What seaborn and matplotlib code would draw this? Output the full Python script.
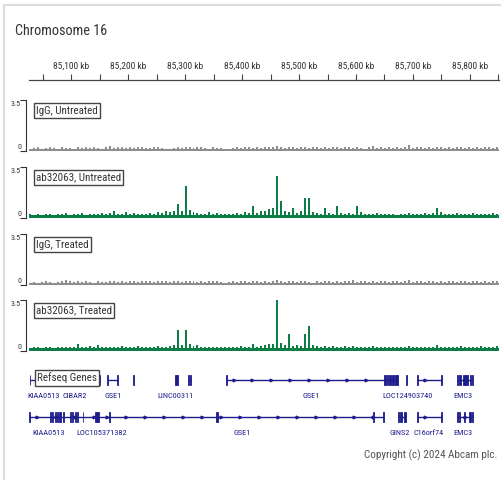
import numpy as np
import pandas as pd
import matplotlib
matplotlib.use("Agg")
import matplotlib.pyplot as plt
import seaborn as sns
from matplotlib.lines import Line2D
from matplotlib.patches import Rectangle
from matplotlib import font_manager as fm

W, H = 502, 480

# ---------------- data ----------------
region_start_kb = 85026
region_end_kb = 85851
bin_kb = 7.0
n_bins = 118

ruler_major_kb = [85100, 85200, 85300, 85400, 85500, 85600, 85700, 85800]
ruler_major_labels = ["85,100 kb", "85,200 kb", "85,300 kb", "85,400 kb",
                      "85,500 kb", "85,600 kb", "85,700 kb", "85,800 kb"]
ruler_minor_kb = [85050, 85150, 85250, 85350, 85450, 85550, 85650, 85750, 85850]

track_names = ["IgG, Untreated", "ab32063, Untreated", "IgG, Treated", "ab32063, Treated"]
track_ymax = 3.5

igg_untreated = [
    0.15, 0.2, 0.25, 0.15, 0.2, 0.3, 0.2, 0.15, 0.25, 0.2,
    0.2, 0.15, 0.25, 0.2, 0.3, 0.2, 0.25, 0.2, 0.15, 0.25,
    0.35, 0.2, 0.25, 0.3, 0.2, 0.25, 0.2, 0.3, 0.25, 0.2,
    0.2, 0.25, 0.3, 0.2, 0.15, 0.0, 0.2, 0.25, 0.2, 0.3,
    0.25, 0.2, 0.3, 0.25, 0.2, 0.15, 0.25, 0.2, 0.2, 0.0,
    0.0, 0.2, 0.25, 0.2, 0.3, 0.25, 0.2, 0.25, 0.2, 0.3,
    0.25, 0.3, 0.35, 0.25, 0.2, 0.3, 0.25, 0.2, 0.3, 0.25,
    0.2, 0.25, 0.3, 0.2, 0.25, 0.2, 0.3, 0.25, 0.2, 0.25,
    0.3, 0.2, 0.25, 0.2, 0.15, 0.25, 0.35, 0.2, 0.25, 0.2,
    0.25, 0.2, 0.3, 0.2, 0.25, 0.4, 0.2, 0.25, 0.3, 0.2,
    0.25, 0.2, 0.3, 0.25, 0.2, 0.25, 0.2, 0.3, 0.25, 0.2,
    0.25, 0.2, 0.3, 0.2, 0.25, 0.3, 0.2, 0.25]

ab_untreated = [
    0.25, 0.2, 0.3, 0.2, 0.25, 0.3, 0.2, 0.25, 0.3, 0.35,
    0.2, 0.3, 0.25, 0.35, 0.2, 0.3, 0.25, 0.3, 0.35, 0.3,
    0.35, 0.5, 0.3, 0.25, 0.4, 0.3, 0.35, 0.3, 0.25, 0.3,
    0.35, 0.3, 0.4, 0.35, 0.45, 0.4, 0.5, 0.95, 0.45, 2.2,
    0.55, 0.4, 0.35, 0.3, 0.3, 0.4, 0.3, 0.35, 0.25, 0.3,
    0.3, 0.25, 0.35, 0.3, 0.4, 0.35, 0.8, 0.35, 0.45, 0.5,
    0.6, 0.7, 2.9, 1.15, 0.5, 0.4, 0.7, 0.35, 0.45, 1.35,
    1.4, 0.4, 0.35, 0.3, 0.7, 0.35, 0.3, 0.8, 0.35, 0.3,
    0.35, 0.3, 0.85, 0.4, 0.3, 0.25, 0.3, 0.35, 0.25, 0.3,
    0.25, 0.3, 0.2, 0.3, 0.25, 0.35, 0.3, 0.25, 0.3, 0.35,
    0.3, 0.35, 0.7, 0.4, 0.3, 0.25, 0.3, 0.35, 0.3, 0.25,
    0.3, 0.35, 0.25, 0.3, 0.3, 0.25, 0.35, 0.3]

igg_treated = [
    0.15, 0.2, 0.15, 0.2, 0.25, 0.2, 0.15, 0.2, 0.25, 0.35,
    0.25, 0.2, 0.3, 0.2, 0.25, 0.2, 0.15, 0.25, 0.2, 0.2,
    0.25, 0.3, 0.2, 0.25, 0.2, 0.3, 0.25, 0.2, 0.25, 0.3,
    0.25, 0.2, 0.3, 0.25, 0.3, 0.2, 0.25, 0.3, 0.2, 0.25,
    0.3, 0.25, 0.2, 0.25, 0.2, 0.3, 0.25, 0.3, 0.2, 0.0,
    0.2, 0.25, 0.2, 0.3, 0.25, 0.2, 0.25, 0.3, 0.2, 0.25,
    0.2, 0.3, 0.35, 0.25, 0.2, 0.25, 0.3, 0.2, 0.25, 0.3,
    0.2, 0.0, 0.25, 0.2, 0.25, 0.3, 0.2, 0.25, 0.2, 0.3,
    0.25, 0.35, 0.2, 0.25, 0.3, 0.2, 0.25, 0.2, 0.3, 0.25,
    0.2, 0.25, 0.3, 0.2, 0.25, 0.35, 0.2, 0.25, 0.3, 0.2,
    0.25, 0.3, 0.2, 0.25, 0.2, 0.3, 0.25, 0.2, 0.3, 0.25,
    0.2, 0.25, 0.3, 0.2, 0.25, 0.2, 0.3, 0.25]

ab_treated = [
    0.2, 0.25, 0.3, 0.2, 0.3, 0.25, 0.2, 0.3, 0.25, 0.3,
    0.25, 0.3, 0.5, 0.3, 0.25, 0.35, 0.3, 0.4, 0.3, 0.25,
    0.3, 0.25, 0.3, 0.35, 0.3, 0.25, 0.3, 0.35, 0.3, 0.3,
    0.25, 0.3, 0.35, 0.3, 0.3, 0.35, 0.4, 1.45, 0.4, 1.45,
    0.45, 0.35, 0.4, 0.3, 0.25, 0.3, 0.25, 0.3, 0.25, 0.3,
    0.3, 0.25, 0.3, 0.35, 0.3, 0.3, 0.45, 0.3, 0.35, 0.4,
    0.45, 0.5, 3.6, 0.55, 0.4, 1.15, 0.35, 0.4, 0.35, 1.15,
    1.7, 0.4, 0.35, 0.3, 0.35, 0.3, 0.35, 0.3, 0.3, 0.35,
    0.3, 0.35, 0.3, 0.3, 0.25, 0.3, 0.35, 0.25, 0.3, 0.25,
    0.3, 0.25, 0.3, 0.25, 0.3, 0.35, 0.25, 0.3, 0.25, 0.3,
    0.3, 0.25, 0.4, 0.3, 0.25, 0.3, 0.25, 0.3, 0.35, 0.25,
    0.3, 0.25, 0.3, 0.35, 0.25, 0.3, 0.3, 0.35]

track_values = [igg_untreated, ab_untreated, igg_treated, ab_treated]

# RefSeq gene features (kb)
gene_labels = ["KIAA0513", "CIBAR2", "GSE1", "", "LINC00311", "", "GSE1",
               "LOC124903740", "", "", "EMC3",
               "KIAA0513", "LOC105371382", "GSE1", "GINS2", "C16orf74", "EMC3"]
gene_rows = [0, 0, 0, 0, 0, 0, 0, 0, 0, 0, 0,
             1, 1, 1, 1, 1, 1]
gene_starts = [85027, 85142, 85164, 85208, 85282, 85305, 85371, 85650, 85688, 85707, 85777,
               85026, 85141, 85149, 85673, 85707, 85777]
gene_ends = [85145, 85150, 85183, 85209.5, 85287, 85311, 85650, 85673, 85690, 85751, 85805,
             85149, 85149, 85650, 85687, 85751, 85805]
gene_exons = [
    [(85027, 85028.5)],
    [(85145, 85150)],
    [(85163.5, 85165.5), (85181, 85183)],
    [(85208, 85209.5)],
    [(85283, 85287)],
    [(85305, 85306.5), (85308, 85311)],
    [(85371, 85373)],
    [(85650, 85652), (85654, 85656), (85658, 85661), (85663, 85666), (85668, 85673)],
    [(85688, 85690)],
    [(85707, 85709), (85749, 85751)],
    [(85777, 85779), (85781, 85784), (85788, 85797), (85800, 85802), (85803, 85805)],
    [(85026.5, 85028), (85063, 85065), (85067, 85069), (85071, 85073), (85075, 85077),
     (85079, 85083), (85085, 85088), (85098, 85100), (85102, 85104), (85106, 85108),
     (85110, 85112), (85120, 85121.5)],
    [(85141, 85149)],
    [(85167, 85169), (85355, 85357), (85629, 85631), (85648, 85650)],
    [(85673, 85675), (85678, 85681), (85684, 85687)],
    [(85707, 85709), (85749, 85751)],
    [(85777, 85779), (85781, 85783), (85790, 85792), (85799, 85801), (85803, 85805)],
]
gene_label_kb = [85051, 85106, 85173, 0, 85284, 0, 85522, 85691, 0, 0, 85787,
                 85060, 85154, 85401, 85677, 85727, 85787]

copyright_text = "Copyright (c) 2024 Abcam plc."
title_text = "Chromosome 16"

# ---------------- style ----------------
sns.set_theme(style="white")

# choose the narrowest installed sans family
_fonts = fm.fontManager.ttflist
_names = {f.name for f in _fonts}
FAM, STRETCH = "DejaVu Sans", "normal"
for cand in ["Liberation Sans Narrow", "Roboto Condensed", "Open Sans Condensed",
             "Noto Sans Condensed", "DejaVu Sans Condensed"]:
    if cand in _names:
        FAM = cand
        break
else:
    if any(f.name == "DejaVu Sans" and f.stretch in ("condensed", "semi-condensed") for f in _fonts):
        FAM, STRETCH = "DejaVu Sans", "condensed"
    elif any(f.name == "Noto Sans" and f.stretch in ("condensed", "semi-condensed") for f in _fonts):
        FAM, STRETCH = "Noto Sans", "condensed"
    elif "Lato" in _names:
        FAM = "Lato"
plt.rcParams['font.family'] = [FAM, 'DejaVu Sans']
plt.rcParams['font.stretch'] = STRETCH

GREEN = "#0b7d45"
GRAY = "#8e8e8e"
NAVY = "#1c1c8c"
TXT = "#333333"
track_colors = [GRAY, GREEN, GRAY, GREEN]
track_floor = [0.13, 0.18, 0.13, 0.18]
track_tops = [100, 167, 234, 300]
track_bottoms = [151, 218, 285, 351]
PLOT_L, PLOT_R = 29, 499

fig = plt.figure(figsize=(W / 100, H / 100), dpi=100)
fig.patch.set_facecolor("white")
_renderer = fig.canvas.get_renderer()


def fit_size(text, target_px, base=10.0):
    t = fig.text(0, 0, text, fontsize=base)
    w = t.get_window_extent(_renderer).width
    t.remove()
    return base * target_px / w


FS_TITLE = fit_size(title_text, 92)
FS_TICK = fit_size("85,100 kb", 36)
FS_TRACK = fit_size("ab32063, Untreated", 84)
FS_GENE = fit_size("LOC124903740", 50)
FS_SCALE = fit_size("3.5", 10)
FS_COPY = fit_size(copyright_text, 132)


def px_axes(l, t, r, b):
    return fig.add_axes([l / W, 1 - b / H, (r - l) / W, (b - t) / H])


def fx(x):
    return x / W


def fy(y):
    return 1 - y / H


# frame
fig.add_artist(Line2D([fx(4), fx(4)], [0, fy(5)], transform=fig.transFigure, color="#dcdcdc", lw=1.5))
fig.add_artist(Line2D([fx(4), 1], [fy(5), fy(5)], transform=fig.transFigure, color="#dcdcdc", lw=1.5))

# title
fig.text(fx(15), fy(31), title_text, fontsize=FS_TITLE, color=TXT, va="center", ha="left")

# ruler
ax_r = px_axes(PLOT_L, 80, PLOT_R, 81)
ax_r.set_xlim(region_start_kb, region_end_kb)
ax_r.set_ylim(0, 1)
for s in ["left", "right", "bottom"]:
    ax_r.spines[s].set_visible(False)
ax_r.spines["top"].set_color("#444")
ax_r.spines["top"].set_linewidth(0.9)
ax_r.xaxis.tick_top()
ax_r.set_xticks(ruler_major_kb)
ax_r.set_xticklabels(ruler_major_labels, fontsize=FS_TICK, color=TXT)
ax_r.set_xticks(ruler_minor_kb, minor=True)
ax_r.tick_params(axis="x", which="both", top=True, bottom=False, direction="out",
                 length=4, width=0.8, color="#444", pad=3)
ax_r.set_yticks([])

# tracks: each value sits in the left half of its 7 kb bin (half-width bars -> spiky look)
half_edges = (region_start_kb + (bin_kb / 2) * np.arange(2 * n_bins + 1)).tolist()
bin_pos = region_start_kb + bin_kb * np.arange(n_bins) + bin_kb / 4
for i, (name, vals, col) in enumerate(zip(track_names, track_values, track_colors)):
    ax = px_axes(PLOT_L, track_tops[i], PLOT_R, track_bottoms[i])
    df = pd.DataFrame({"pos": bin_pos, "signal": vals})
    sns.histplot(data=df, x="pos", weights="signal", bins=half_edges, element="bars",
                 fill=True, color=col, alpha=1, linewidth=0, ax=ax)
    ax.axhspan(0, track_floor[i], color=col, lw=0)
    ax.set_xlim(region_start_kb, region_end_kb)
    ax.set_ylim(0, track_ymax)
    for s in ["top", "right", "bottom"]:
        ax.spines[s].set_visible(False)
    ax.spines["left"].set_position(("outward", 2))
    ax.spines["left"].set_color("#333")
    ax.spines["left"].set_linewidth(0.8)
    ax.set_yticks([0, track_ymax])
    ax.set_yticklabels([])
    ax.tick_params(axis="y", left=True, length=4, width=0.8, color="#333")
    ax.set_xticks([])
    ax.set_xlabel("")
    ax.set_ylabel("")
    ax.set_facecolor("none")
    fig.text(fx(21), fy(track_tops[i] + 1), "3.5", ha="right", va="top", fontsize=FS_SCALE, color=TXT)
    fig.text(fx(22), fy(track_bottoms[i] - 1), "0", ha="right", va="bottom", fontsize=FS_SCALE, color=TXT)
    fig.text(fx(36), fy(track_tops[i] + 10.5), name, ha="left", va="center", fontsize=FS_TRACK,
             color=TXT, zorder=5,
             bbox=dict(boxstyle="square,pad=0.2", fc="white", ec="#444", lw=1.0))

# genes
ax_g = px_axes(PLOT_L, 365, PLOT_R, 445)
ax_g.set_xlim(region_start_kb, region_end_kb)
ax_g.set_ylim(1.757, -0.405)
ax_g.axis("off")
EXON_H = 0.14
for lab, row, s, e, exons, lx in zip(gene_labels, gene_rows, gene_starts, gene_ends,
                                     gene_exons, gene_label_kb):
    if e - s > 2:
        ax_g.plot([s, e], [row, row], color=NAVY, lw=1, solid_capstyle="butt")
    if e - s > 20:
        arrows = np.arange(s + 14, e - 6, 33.3)
        ax_g.plot(arrows, [row] * len(arrows), ls="none", marker=">", ms=2, color=NAVY)
    for es, ee in exons:
        ax_g.add_patch(Rectangle((es, row - EXON_H), ee - es, 2 * EXON_H,
                                 fc=NAVY, ec=NAVY, lw=0.6))
    if lab:
        ax_g.text(lx, row + 0.43, lab, ha="center", va="center", fontsize=FS_GENE, color=NAVY)

fig.text(fx(37), fy(378), "Refseq Genes", ha="left", va="center", fontsize=FS_TRACK, color=TXT,
         zorder=5, bbox=dict(boxstyle="square,pad=0.2", fc="white", ec="#444", lw=1.0))

fig.text(fx(497), fy(455), copyright_text, ha="right", va="center", fontsize=FS_COPY, color="#555")

fig.savefig("out.png", dpi=100, facecolor="white")
